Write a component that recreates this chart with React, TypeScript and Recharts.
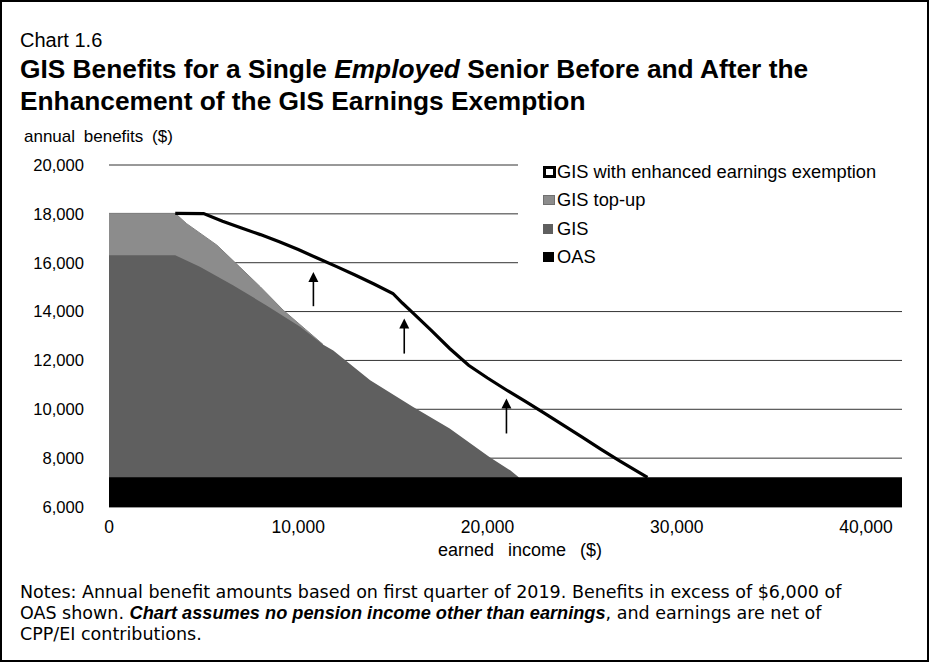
import React from 'react';
import {
  ComposedChart,
  Area,
  Line,
  XAxis,
  YAxis,
  CartesianGrid,
  ReferenceLine,
  Legend,
} from 'recharts';

// ---------- data ----------
const xTicks = [0, 10000, 20000, 30000, 40000];
const yTicks = [6000, 8000, 10000, 12000, 14000, 16000, 18000, 20000];
const xDomain = [0, 41900];
const yDomain = [6000, 20000];

// OAS (only the part above $6,000 is visible)
const oasIncome = [0, 41900];
const oasValues = [7217, 7217];

// GIS (top of GIS band, cumulative with OAS)
const gisIncome = [0, 3500, 4800, 6550, 8300, 10100, 11300, 11850, 13800, 16050, 18000, 20100, 21200, 21650];
const gisValues = [16310, 16310, 15830, 15080, 14260, 13380, 12650, 12410, 11190, 10100, 9210, 8050, 7500, 7217];

// GIS top-up (top of top-up band, cumulative)
const topupIncome = [0, 3500, 4100, 5700, 6900, 8000, 9200, 10400, 11300];
const topupValues = [18020, 18020, 17600, 16720, 15830, 15010, 14060, 13260, 12660];

// GIS with enhanced earnings exemption (total benefits)
const enhancedIncome = [
  3500, 5000, 6000, 7000, 8000, 9000, 10000, 11000, 12000, 13000, 14000, 15000, 15500, 16000,
  17000, 18000, 19000, 20000, 21000, 22000, 23000, 24000, 25000, 26000, 27000, 28000, 28450,
];
const enhancedValues = [
  18020, 18010, 17700, 17420, 17150, 16860, 16540, 16190, 15850, 15500, 15130, 14740, 14350, 13990,
  13250, 12490, 11800, 11280, 10790, 10320, 9840, 9350, 8860, 8360, 7880, 7420, 7217,
];

// arrows (income, from value, to value)
const arrowIncome = [10800, 15600, 21000];
const arrowFrom = [14220, 12280, 9010];
const arrowTo = [15620, 13720, 10440];

const legendLabels = ['GIS with enhanced earnings exemption', 'GIS top-up', 'GIS', 'OAS'];

// ---------- helpers ----------
const toSeries = (xs: number[], ys: number[]) => xs.map((x, i) => ({ income: x, value: ys[i] }));
const oasData = toSeries(oasIncome, oasValues);
const gisData = toSeries(gisIncome, gisValues);
const topupData = toSeries(topupIncome, topupValues);
const enhancedData = toSeries(enhancedIncome, enhancedValues);

const fmt = (v: number) => v.toLocaleString('en-US');

const ARIAL = '"Liberation Sans", Arial, sans-serif';
const GOTHIC = '"DejaVu Sans", "Liberation Sans", sans-serif';

const ArrowShape = (props: any) => {
  const { x1, y1, x2, y2 } = props;
  const head = 10;
  const half = 5;
  return (
    <g>
      <line x1={x1} y1={y1} x2={x2} y2={y2 + head - 1} stroke="#000" strokeWidth={1.6} />
      <polygon points={`${x2},${y2} ${x2 - half},${y2 + head} ${x2 + half},${y2 + head}`} fill="#000" />
    </g>
  );
};

const markerStyles: React.CSSProperties[] = [
  { width: 7, height: 6, border: '3px solid #000', background: '#fff' },
  { width: 10, height: 8, border: '1px solid #707070', background: '#8c8c8c' },
  { width: 10, height: 10, background: '#5f5f5f' },
  { width: 11, height: 10, background: '#000' },
];

const renderLegend = () => (
  <div style={{ position: 'relative', width: '100%', height: '100%', background: '#fff' }}>
    {legendLabels.map((label, i) => (
      <div
        key={label}
        style={{
          position: 'absolute',
          left: 0,
          top: 6 + i * 28.4,
          height: 28,
          width: '100%',
          display: 'flex',
          alignItems: 'center',
        }}
      >
        <div style={{ position: 'absolute', left: 25, ...markerStyles[i], boxSizing: 'content-box' }} />
        <span
          style={{
            position: 'absolute',
            left: 39,
            fontFamily: ARIAL,
            fontSize: 18.3,
            color: '#000',
            whiteSpace: 'nowrap',
            lineHeight: '28px',
          }}
        >
          {label}
        </span>
      </div>
    ))}
  </div>
);

export default function App() {
  return (
    <div
      style={{
        position: 'absolute',
        left: 0,
        top: 0,
        width: 930,
        height: 663,
        background: '#fff',
        overflow: 'hidden',
      }}
    >
      <div style={{ position: 'absolute', left: 0, top: 0 }}>
        <ComposedChart width={930} height={663} margin={{ top: 165, right: 28, bottom: 126, left: 29 }}>
          <CartesianGrid horizontal vertical={false} stroke="#333" strokeWidth={1} />
          <XAxis
            dataKey="income"
            type="number"
            domain={xDomain}
            ticks={xTicks}
            interval={0}
            tickFormatter={fmt}
            axisLine={false}
            tickLine={false}
            tickSize={0}
            tickMargin={14}
            height={30}
            allowDataOverflow
            tick={{ fill: '#000', fontSize: 17.5, fontFamily: ARIAL }}
          />
          <YAxis
            type="number"
            domain={yDomain}
            ticks={yTicks}
            interval={0}
            tickFormatter={fmt}
            axisLine={false}
            tickLine={false}
            tickSize={0}
            tickMargin={25}
            width={80}
            allowDataOverflow
            tick={{ fill: '#000', fontSize: 16.6, fontFamily: ARIAL }}
          />
          <Area
            data={topupData}
            dataKey="value"
            type="linear"
            fill="#8c8c8c"
            fillOpacity={1}
            stroke="#808080"
            strokeWidth={1}
            isAnimationActive={false}
          />
          <Area
            data={gisData}
            dataKey="value"
            type="linear"
            fill="#5f5f5f"
            fillOpacity={1}
            stroke="none"
            isAnimationActive={false}
          />
          <Area
            data={oasData}
            dataKey="value"
            type="linear"
            fill="#000"
            fillOpacity={1}
            stroke="none"
            isAnimationActive={false}
          />
          <Line
            data={enhancedData}
            dataKey="value"
            type="linear"
            stroke="#000"
            strokeWidth={3.2}
            dot={false}
            isAnimationActive={false}
          />
          {arrowIncome.map((x, i) => (
            <ReferenceLine
              key={`arrow-${i}`}
              segment={[
                { x, y: arrowFrom[i] },
                { x, y: arrowTo[i] },
              ]}
              shape={ArrowShape}
            />
          ))}
          <Legend
            layout="vertical"
            align="center"
            verticalAlign="middle"
            content={renderLegend}
            wrapperStyle={{ position: 'absolute', left: 518, top: 152, width: 386, height: 120, background: '#fff' }}
          />
        </ComposedChart>
      </div>

      {/* titles */}
      <div
        style={{
          position: 'absolute',
          left: 20,
          top: 30,
          fontFamily: ARIAL,
          fontSize: 20,
          lineHeight: '20px',
          whiteSpace: 'nowrap',
          color: '#000',
        }}
      >
        Chart 1.6
      </div>
      <div
        style={{
          position: 'absolute',
          left: 20,
          top: 54,
          fontFamily: ARIAL,
          fontWeight: 'bold',
          fontSize: 26.3,
          lineHeight: '31.7px',
          whiteSpace: 'nowrap',
          color: '#000',
        }}
      >
        GIS Benefits for a Single <i>Employed</i> Senior Before and After the
        <br />
        Enhancement of the GIS Earnings Exemption
      </div>
      <div
        style={{
          position: 'absolute',
          left: 24,
          top: 128,
          fontFamily: ARIAL,
          fontSize: 17,
          lineHeight: '17px',
          wordSpacing: 4,
          whiteSpace: 'nowrap',
          color: '#000',
        }}
      >
        annual benefits ($)
      </div>
      <div
        style={{
          position: 'absolute',
          left: 520,
          top: 541,
          transform: 'translateX(-50%)',
          fontFamily: ARIAL,
          fontSize: 18,
          lineHeight: '18px',
          wordSpacing: 9,
          whiteSpace: 'nowrap',
          color: '#000',
        }}
      >
        earned income ($)
      </div>

      {/* notes */}
      <div
        style={{
          position: 'absolute',
          left: 20,
          top: 582,
          fontFamily: GOTHIC,
          fontSize: 17.5,
          lineHeight: '21px',
          whiteSpace: 'nowrap',
          color: '#000',
        }}
      >
        Notes: Annual benefit amounts based on first quarter of 2019. Benefits in excess of $6,000 of
        <br />
        OAS shown.{' '}
        <b style={{ fontFamily: ARIAL, fontStyle: 'italic', fontSize: 18.2 }}>
          Chart assumes no pension income other than earnings
        </b>
        , and earnings are net of
        <br />
        CPP/EI contributions.
      </div>

      {/* frame */}
      <div
        style={{
          position: 'absolute',
          left: 0,
          top: 0,
          width: 929,
          height: 662,
          border: '2px solid #000',
          boxSizing: 'border-box',
          pointerEvents: 'none',
        }}
      />
    </div>
  );
}
